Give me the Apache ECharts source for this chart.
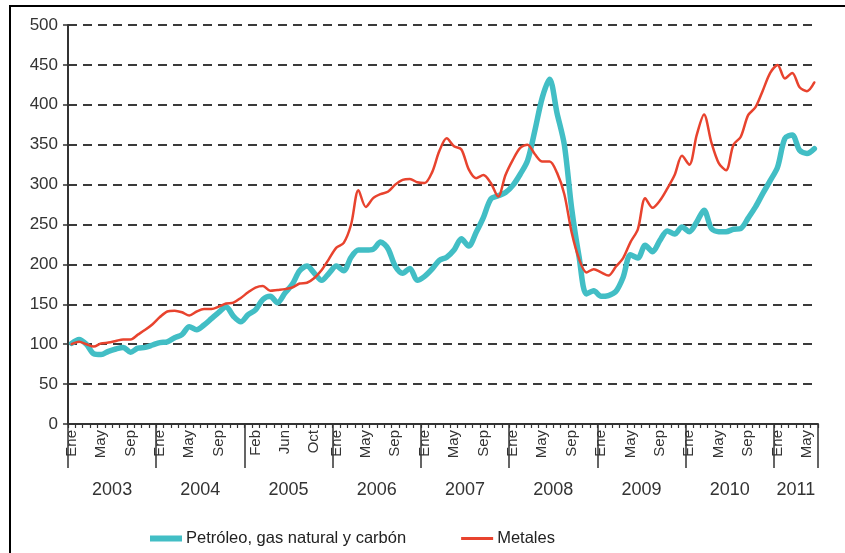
<!DOCTYPE html>
<html>
<head>
<meta charset="utf-8">
<script src="https://cdn.jsdelivr.net/npm/echarts@6/dist/echarts.min.js"></script>
<style>
  html, body { margin: 0; padding: 0; background: #ffffff; }
  #chart { width: 845px; height: 553px; }
</style>
</head>
<body>
<div id="chart"></div>
<script>
// Monthly price indices (Ene 2003 = 100), January 2003 to June 2011
const monthNames = ['Ene', 'Feb', 'Mar', 'Abr', 'May', 'Jun', 'Jul', 'Ago', 'Sep', 'Oct', 'Nov', 'Dic'];
const years = ['2003', '2004', '2005', '2006', '2007', '2008', '2009', '2010', '2011'];
const monthsPerYear = [12, 12, 12, 12, 12, 12, 12, 12, 6];

// Month ticks that carry a label under the axis
const labelledMonths = [
  'Ene 2003', 'May 2003', 'Sep 2003',
  'Ene 2004', 'May 2004', 'Sep 2004',
  'Feb 2005', 'Jun 2005', 'Oct 2005',
  'Ene 2006', 'May 2006', 'Sep 2006',
  'Ene 2007', 'May 2007', 'Sep 2007',
  'Ene 2008', 'May 2008', 'Sep 2008',
  'Ene 2009', 'May 2009', 'Sep 2009',
  'Ene 2010', 'May 2010', 'Sep 2010',
  'Ene 2011', 'May 2011'
];

const yTicks = [0, 50, 100, 150, 200, 250, 300, 350, 400, 450, 500];

const petroleoGasCarbon = [
  101, 106, 100, 88, 87, 91, 94, 96, 90, 95, 96, 99,
  102, 103, 108, 112, 122, 118, 124, 132, 140, 147, 135, 128,
  137, 143, 156, 160, 152, 164, 175, 192, 198, 189, 180, 189,
  198, 192, 209, 218, 218, 219, 228, 220, 198, 189, 195, 180,
  185, 194, 205, 209, 218, 232, 223, 240, 259, 282, 286, 290,
  299, 313, 330, 368, 409, 432, 390, 350, 270, 210, 163, 167,
  160, 161, 166, 184, 212, 208, 224, 216, 230, 242, 238, 247,
  241, 253, 268, 245, 241, 241, 244, 245, 258, 272, 289, 305,
  322, 358, 362, 343, 339, 345
];

const metales = [
  100, 103, 100, 97, 101, 102, 104, 106, 106, 112, 118, 125,
  134, 141, 142, 140, 136, 141, 144, 144, 147, 151, 152, 158,
  165, 171, 173, 167, 168, 169, 171, 176, 177, 183, 193, 207,
  221, 227, 250, 293, 272, 283, 288, 291, 300, 306, 307, 303,
  302, 315, 342, 358, 348, 344, 319, 308, 312, 302, 285, 312,
  331, 346, 350, 338, 329, 329, 315, 288, 240, 207, 190, 194,
  190, 186, 197, 208, 228, 244, 283, 271, 280, 295, 312, 336,
  325, 362, 388, 353, 327, 318, 350, 360, 387, 397, 418, 440,
  450, 433, 440, 422, 417, 428
];

// Category list ("Ene 2003" ...) plus year boundaries / year centres on the month scale
const categories = [];
const yearBounds = [0];
const yearCenters = [];
years.forEach(function (y, k) {
  const start = categories.length;
  for (let m = 0; m < monthsPerYear[k]; m++) categories.push(monthNames[m] + ' ' + y);
  yearBounds.push(categories.length);
  yearCenters.push((start + categories.length) / 2);
});

const TEAL = '#42BEC5';
const RED = '#E8432E';
const INK = '#333333';
const FONT = '"Liberation Sans", Arial, sans-serif';

// Legend swatches: a horizontal bar inside a 32x14 box (corner specks fix the box size)
const thickBar = 'path://M0,0L0.01,0L0,0.01ZM0,4L32,4L32,10L0,10ZM31.99,14L32,14L32,13.99Z';
const thinBar = 'path://M0,0L0.01,0L0,0.01ZM0,5.5L32,5.5L32,8.5L0,8.5ZM31.99,14L32,14L32,13.99Z';

const chart = echarts.init(document.getElementById('chart'), null, { renderer: 'canvas' });

chart.setOption({
  backgroundColor: '#ffffff',
  animation: false,
  textStyle: { fontFamily: FONT },
  graphic: [{
    type: 'rect',
    z: -10,
    shape: { x: 10, y: 6, width: 900, height: 600 },
    style: { fill: 'none', stroke: '#000000', lineWidth: 2 }
  }],
  grid: { left: 68, right: 27, top: 25, bottom: 129, containLabel: false },
  legend: {
    left: 150,
    top: 530,
    padding: 0,
    itemGap: 55,
    itemWidth: 32,
    itemHeight: 14,
    textStyle: { fontSize: 16.5, color: '#222222', fontFamily: FONT, padding: [0, 0, 0, -1] },
    data: [
      { name: 'Petróleo, gas natural y carbón', icon: thickBar },
      { name: 'Metales', icon: thinBar }
    ]
  },
  xAxis: [
    {
      type: 'category',
      data: categories,
      boundaryGap: true,
      axisLine: { show: true, lineStyle: { color: INK, width: 2 } },
      axisTick: { show: true, interval: 0, length: 4, lineStyle: { color: INK, width: 1.2 } },
      axisLabel: {
        show: true,
        interval: function (index, value) { return labelledMonths.indexOf(value) !== -1; },
        formatter: function (value) { return value.split(' ')[0]; },
        rotate: 90,
        margin: 6,
        fontSize: 15,
        color: INK,
        fontFamily: FONT
      },
      splitLine: { show: false }
    },
    {
      type: 'value',
      min: 0,
      max: categories.length,
      position: 'bottom',
      axisLine: { show: false },
      splitLine: { show: false },
      axisTick: {
        show: true,
        customValues: yearBounds,
        length: 44,
        lineStyle: { color: INK, width: 1.5 }
      },
      axisLabel: {
        show: true,
        customValues: yearCenters,
        formatter: function (v) { return years[yearCenters.indexOf(v)] || ''; },
        margin: 57,
        fontSize: 18,
        color: INK,
        fontFamily: FONT
      }
    }
  ],
  yAxis: {
    type: 'value',
    min: 0,
    max: 500,
    interval: 50,
    axisLine: { show: true, lineStyle: { color: INK, width: 2 } },
    axisTick: { show: true, length: 5, lineStyle: { color: INK, width: 1.5 } },
    axisLabel: {
      margin: 10,
      fontSize: 17,
      color: INK,
      fontFamily: FONT,
      customValues: yTicks
    },
    splitLine: { show: true, lineStyle: { color: '#3a3a3a', width: 2, type: [9, 6] } }
  },
  series: [
    {
      name: 'Petróleo, gas natural y carbón',
      type: 'line',
      xAxisIndex: 0,
      data: petroleoGasCarbon,
      symbol: 'none',
      smooth: 0.3,
      z: 2,
      itemStyle: { color: TEAL },
      lineStyle: { color: TEAL, width: 5.5, join: 'round', cap: 'round' }
    },
    {
      name: 'Metales',
      type: 'line',
      xAxisIndex: 0,
      data: metales,
      symbol: 'none',
      smooth: 0.3,
      z: 3,
      itemStyle: { color: RED },
      lineStyle: { color: RED, width: 2.5, join: 'round', cap: 'round' }
    }
  ]
});
</script>
</body>
</html>
